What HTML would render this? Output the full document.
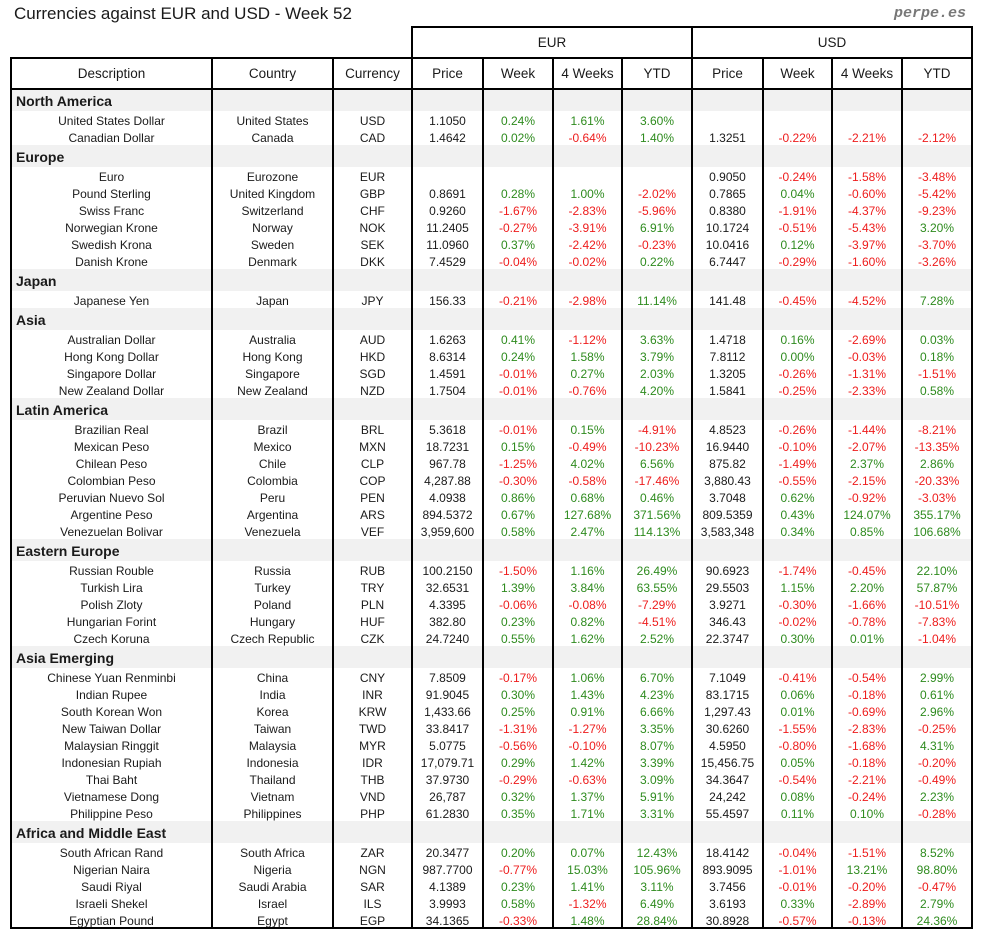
<!DOCTYPE html>
<html><head><meta charset="utf-8">
<style>
body{margin:0;background:#fff;width:984px;height:940px;position:relative;overflow:hidden;font-family:"Liberation Sans",sans-serif;color:#1a1a1a}
.a{position:absolute}
.c{position:absolute;text-align:center;font-size:12px;line-height:17px;white-space:nowrap}
.h{position:absolute;text-align:center;font-size:13.5px;white-space:nowrap}
.ln{position:absolute;background:#000}
.band{position:absolute;background:#f1f1f1}
.sec{position:absolute;font-weight:bold;font-size:14px;line-height:22px;left:16px}
.pos{color:#2e8b1e}.neg{color:#ee1c1c}
</style></head><body>
<div class="a" style="left:14px;top:4px;font-size:17px">Currencies against EUR and USD - Week 52</div>
<div class="a" style="right:18px;top:5px;font-family:'Liberation Mono',monospace;font-style:italic;font-weight:bold;font-size:15px;color:#777">perpe.es</div>
<div id="t"></div>
<script>
const cols=[11,212,333,412,483,553,622,692,763,832,902,972];
const headers=["Description","Country","Currency","Price","Week","4 Weeks","YTD","Price","Week","4 Weeks","YTD"];
const sections=[
["North America",[
["United States Dollar","United States","USD","1.1050","0.24%","1.61%","3.60%","","","",""],
["Canadian Dollar","Canada","CAD","1.4642","0.02%","-0.64%","1.40%","1.3251","-0.22%","-2.21%","-2.12%"]]],
["Europe",[
["Euro","Eurozone","EUR","","","","","0.9050","-0.24%","-1.58%","-3.48%"],
["Pound Sterling","United Kingdom","GBP","0.8691","0.28%","1.00%","-2.02%","0.7865","0.04%","-0.60%","-5.42%"],
["Swiss Franc","Switzerland","CHF","0.9260","-1.67%","-2.83%","-5.96%","0.8380","-1.91%","-4.37%","-9.23%"],
["Norwegian Krone","Norway","NOK","11.2405","-0.27%","-3.91%","6.91%","10.1724","-0.51%","-5.43%","3.20%"],
["Swedish Krona","Sweden","SEK","11.0960","0.37%","-2.42%","-0.23%","10.0416","0.12%","-3.97%","-3.70%"],
["Danish Krone","Denmark","DKK","7.4529","-0.04%","-0.02%","0.22%","6.7447","-0.29%","-1.60%","-3.26%"]]],
["Japan",[
["Japanese Yen","Japan","JPY","156.33","-0.21%","-2.98%","11.14%","141.48","-0.45%","-4.52%","7.28%"]]],
["Asia",[
["Australian Dollar","Australia","AUD","1.6263","0.41%","-1.12%","3.63%","1.4718","0.16%","-2.69%","0.03%"],
["Hong Kong Dollar","Hong Kong","HKD","8.6314","0.24%","1.58%","3.79%","7.8112","0.00%","-0.03%","0.18%"],
["Singapore Dollar","Singapore","SGD","1.4591","-0.01%","0.27%","2.03%","1.3205","-0.26%","-1.31%","-1.51%"],
["New Zealand Dollar","New Zealand","NZD","1.7504","-0.01%","-0.76%","4.20%","1.5841","-0.25%","-2.33%","0.58%"]]],
["Latin America",[
["Brazilian Real","Brazil","BRL","5.3618","-0.01%","0.15%","-4.91%","4.8523","-0.26%","-1.44%","-8.21%"],
["Mexican Peso","Mexico","MXN","18.7231","0.15%","-0.49%","-10.23%","16.9440","-0.10%","-2.07%","-13.35%"],
["Chilean Peso","Chile","CLP","967.78","-1.25%","4.02%","6.56%","875.82","-1.49%","2.37%","2.86%"],
["Colombian Peso","Colombia","COP","4,287.88","-0.30%","-0.58%","-17.46%","3,880.43","-0.55%","-2.15%","-20.33%"],
["Peruvian Nuevo Sol","Peru","PEN","4.0938","0.86%","0.68%","0.46%","3.7048","0.62%","-0.92%","-3.03%"],
["Argentine Peso","Argentina","ARS","894.5372","0.67%","127.68%","371.56%","809.5359","0.43%","124.07%","355.17%"],
["Venezuelan Bolivar","Venezuela","VEF","3,959,600","0.58%","2.47%","114.13%","3,583,348","0.34%","0.85%","106.68%"]]],
["Eastern Europe",[
["Russian Rouble","Russia","RUB","100.2150","-1.50%","1.16%","26.49%","90.6923","-1.74%","-0.45%","22.10%"],
["Turkish Lira","Turkey","TRY","32.6531","1.39%","3.84%","63.55%","29.5503","1.15%","2.20%","57.87%"],
["Polish Zloty","Poland","PLN","4.3395","-0.06%","-0.08%","-7.29%","3.9271","-0.30%","-1.66%","-10.51%"],
["Hungarian Forint","Hungary","HUF","382.80","0.23%","0.82%","-4.51%","346.43","-0.02%","-0.78%","-7.83%"],
["Czech Koruna","Czech Republic","CZK","24.7240","0.55%","1.62%","2.52%","22.3747","0.30%","0.01%","-1.04%"]]],
["Asia Emerging",[
["Chinese Yuan Renminbi","China","CNY","7.8509","-0.17%","1.06%","6.70%","7.1049","-0.41%","-0.54%","2.99%"],
["Indian Rupee","India","INR","91.9045","0.30%","1.43%","4.23%","83.1715","0.06%","-0.18%","0.61%"],
["South Korean Won","Korea","KRW","1,433.66","0.25%","0.91%","6.66%","1,297.43","0.01%","-0.69%","2.96%"],
["New Taiwan Dollar","Taiwan","TWD","33.8417","-1.31%","-1.27%","3.35%","30.6260","-1.55%","-2.83%","-0.25%"],
["Malaysian Ringgit","Malaysia","MYR","5.0775","-0.56%","-0.10%","8.07%","4.5950","-0.80%","-1.68%","4.31%"],
["Indonesian Rupiah","Indonesia","IDR","17,079.71","0.29%","1.42%","3.39%","15,456.75","0.05%","-0.18%","-0.20%"],
["Thai Baht","Thailand","THB","37.9730","-0.29%","-0.63%","3.09%","34.3647","-0.54%","-2.21%","-0.49%"],
["Vietnamese Dong","Vietnam","VND","26,787","0.32%","1.37%","5.91%","24,242","0.08%","-0.24%","2.23%"],
["Philippine Peso","Philippines","PHP","61.2830","0.35%","1.71%","3.31%","55.4597","0.11%","0.10%","-0.28%"]]],
["Africa and Middle East",[
["South African Rand","South Africa","ZAR","20.3477","0.20%","0.07%","12.43%","18.4142","-0.04%","-1.51%","8.52%"],
["Nigerian Naira","Nigeria","NGN","987.7700","-0.77%","15.03%","105.96%","893.9095","-1.01%","13.21%","98.80%"],
["Saudi Riyal","Saudi Arabia","SAR","4.1389","0.23%","1.41%","3.11%","3.7456","-0.01%","-0.20%","-0.47%"],
["Israeli Shekel","Israel","ILS","3.9993","0.58%","-1.32%","6.49%","3.6193","0.33%","-2.89%","2.79%"],
["Egyptian Pound","Egypt","EGP","34.1365","-0.33%","1.48%","28.84%","30.8928","-0.57%","-0.13%","24.36%"]]]
];
const T=document.getElementById('t');
function mk(cls,css,txt){const d=document.createElement('div');d.className=cls;d.style.cssText=css;if(txt!==undefined)d.textContent=txt;T.appendChild(d);return d;}
const top1=27,top2=58,bodyTop=89,SH=22,RH=17;
let y=bodyTop;
sections.forEach(s=>{
  const b=mk('band',`left:${cols[0]}px;top:${y}px;width:${cols[11]-cols[0]}px;height:${SH}px`);
  
  
  const st=mk('sec',`top:${y+1}px`,s[0]);
  
  
  y+=SH;
  s[1].forEach(r=>{
    r.forEach((v,i)=>{
      if(v==='')return;
      let cls='c';
      if(v.endsWith('%'))cls+=v.startsWith('-')?' neg':' pos';
      const d=mk(cls,`left:${cols[i]}px;width:${cols[i+1]-cols[i]}px;top:${y+1.5}px`,v);
      
      
    });
    y+=RH;
  });
});
const bottom=y;
[["EUR",3,7],["USD",7,11]].forEach(g=>{
  const d=mk('h',`left:${cols[g[1]]}px;width:${cols[g[2]]-cols[g[1]]}px;top:${top1+8}px`,g[0]);
  
  
});
headers.forEach((h,i)=>{
  const d=mk('h',`left:${cols[i]}px;width:${cols[i+1]-cols[i]}px;top:${top2+8}px`,h);
  
  
});
function L(x,y0,w,h){const d=mk('ln',`left:${x}px;top:${y0}px;width:${w}px;height:${h}px`);}
L(cols[3]-1,top1-1,cols[11]-cols[3]+2,2);
L(cols[0]-1,top2-1,cols[11]-cols[0]+2,2);
L(cols[0]-1,bodyTop-1,cols[11]-cols[0]+2,2);
L(cols[0]-1,bottom-1,cols[11]-cols[0]+2,2);
cols.forEach((x,i)=>{
  if(i===3||i===7||i===11) L(x-1,top1-1,2,bottom-top1+1);
  else L(x-1,top2-1,2,bottom-top2+1);
});
</script>
</body></html>
